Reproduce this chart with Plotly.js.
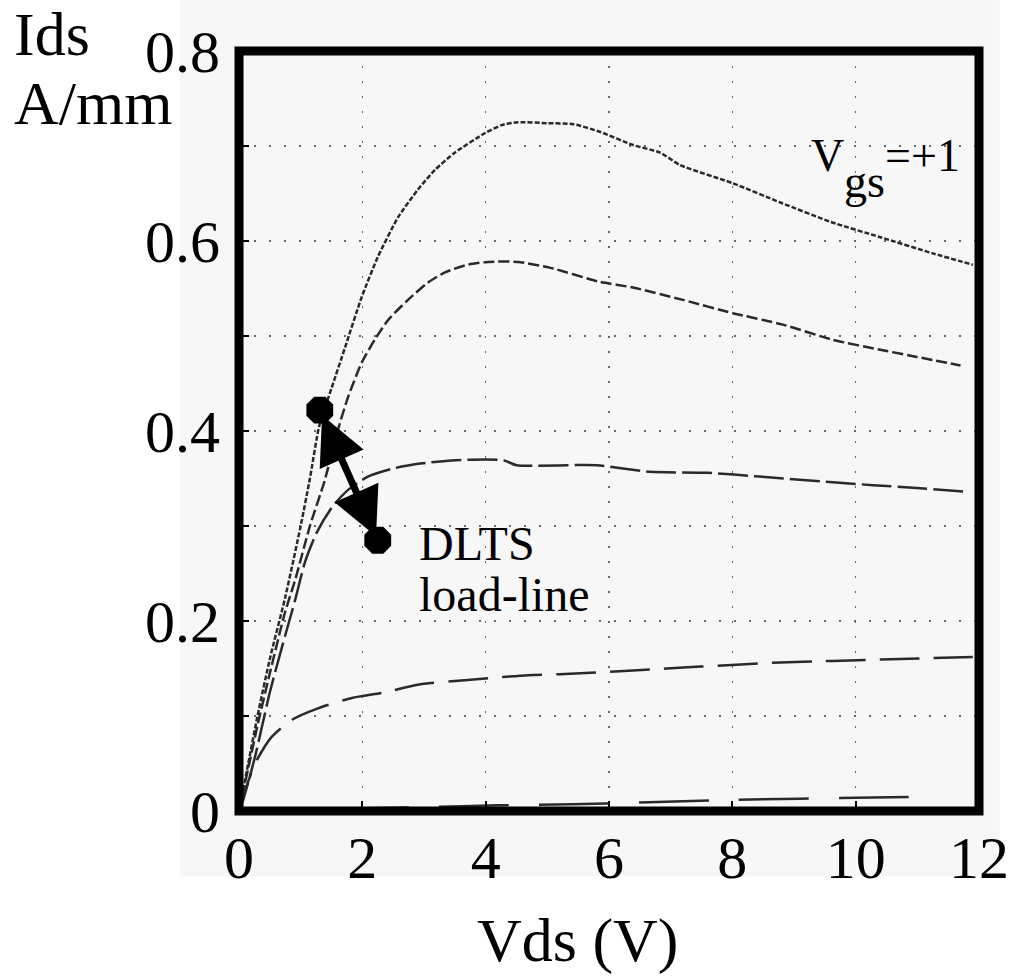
<!DOCTYPE html>
<html>
<head>
<meta charset="utf-8">
<script src="https://cdn.plot.ly/plotly-3.0.1.min.js"></script>
<style>html,body{margin:0;padding:0;background:#fff;}#chart{width:1014px;height:976px;}</style>
</head>
<body>
<div id="chart"></div>
<script>
// Vgs = +1 (top curve)
const vdsA = [0, 0.15, 0.3, 0.5, 0.75, 1.0, 1.15, 1.3, 1.5, 1.72, 1.99, 2.25, 2.58, 2.9, 3.18, 3.5, 4.0, 4.26, 4.52, 5.0, 5.42, 5.85, 6.39, 6.83, 7.15, 8.0, 8.8, 9.6, 10.4, 11.25, 11.9];
const idsA = [0, 0.05, 0.1, 0.16, 0.225, 0.3, 0.35, 0.405, 0.445, 0.488, 0.541, 0.583, 0.625, 0.654, 0.675, 0.693, 0.714, 0.722, 0.725, 0.724, 0.723, 0.715, 0.701, 0.693, 0.68, 0.661, 0.64, 0.62, 0.604, 0.587, 0.575];
// second curve
const vdsB = [0, 0.15, 0.3, 0.5, 0.75, 0.91, 1.15, 1.39, 1.59, 1.77, 1.99, 2.2, 2.42, 2.74, 3.06, 3.34, 3.71, 4.04, 4.52, 5.04, 5.85, 6.39, 7.2, 8.01, 8.82, 9.63, 10.44, 10.99, 11.7];
const idsB = [0, 0.045, 0.09, 0.145, 0.21, 0.243, 0.3, 0.348, 0.398, 0.436, 0.472, 0.496, 0.517, 0.538, 0.556, 0.567, 0.575, 0.578, 0.578, 0.572, 0.557, 0.551, 0.538, 0.524, 0.512, 0.496, 0.485, 0.478, 0.469];
// third curve
const vdsC = [0, 0.07, 0.26, 0.5, 0.75, 0.91, 1.07, 1.26, 1.51, 1.77, 2.09, 2.53, 2.97, 3.45, 4.0, 4.3, 4.5, 5.8, 6.66, 7.59, 8.45, 9.63, 10.28, 10.99, 11.8];
const idsC = [0, 0.012, 0.057, 0.125, 0.185, 0.222, 0.262, 0.293, 0.32, 0.338, 0.352, 0.361, 0.366, 0.369, 0.37, 0.369, 0.364, 0.364, 0.357, 0.356, 0.352, 0.346, 0.343, 0.34, 0.336];
// fourth curve
const vdsD = [0, 0.05, 0.26, 0.53, 0.86, 1.28, 1.83, 2.37, 2.9, 3.71, 4.69, 5.2, 6.39, 7.48, 8.66, 9.63, 10.72, 11.9];
const idsD = [0, 0.012, 0.05, 0.078, 0.096, 0.108, 0.119, 0.125, 0.133, 0.138, 0.143, 0.144, 0.148, 0.152, 0.156, 0.158, 0.16, 0.162];
// lowest curve
const vdsE = [0, 0.86, 2.0, 3.0, 4.2, 5.4, 6.5, 7.9, 9.1, 10.0, 11.2];
const idsE = [0, 0.001, 0.003, 0.004, 0.006, 0.007, 0.009, 0.0115, 0.013, 0.014, 0.015];
// DLTS load-line end points
const loadV = [1.31, 2.25];
const loadI = [0.422, 0.285];

const xTicks = [0, 2, 4, 6, 8, 10, 12];
const xTickText = ['0', '2', '4', '6', '8', '10', '12'];
const yTicks = [0, 0.2, 0.4, 0.6, 0.8];
const yTickText = ['0', '0.2', '0.4', '0.6', '0.8'];

const serif = 'Liberation Serif, Times New Roman, serif';
const curveColor = '#2a2a2a';

function curve(x, y, dash) {
  return {x: x, y: y, type: 'scatter', mode: 'lines', hoverinfo: 'skip',
          line: {color: curveColor, width: 2.5, dash: dash, shape: 'spline', smoothing: 0.6}};
}

const traces = [
  curve(vdsA, idsA, '5px,2px'),
  curve(vdsB, idsB, '11px,4px'),
  curve(vdsC, idsC, '30px,6px'),
  curve(vdsD, idsD, '40px,14px'),
  curve(vdsE, idsE, '70px,30px'),
  {x: loadV, y: loadI, type: 'scatter', mode: 'lines+markers', hoverinfo: 'skip',
   line: {color: '#000', width: 7},
   marker: {symbol: 'octagon', size: 29, color: '#000'}}
];

function along(t) {
  return [loadV[0] + (loadV[1] - loadV[0]) * t, loadI[0] + (loadI[1] - loadI[0]) * t];
}
const mid = along(0.5);
const tip1 = along(0.04);
const tip2 = along(0.97);

const annFont = {family: serif, size: 48, color: '#000'};
const bigFont = {family: serif, size: 62, color: '#000'};

const annotations = [
  {x: tip1[0], y: tip1[1], ax: mid[0], ay: mid[1], axref: 'x', ayref: 'y', xref: 'x', yref: 'y',
   text: '', showarrow: true, arrowhead: 2, arrowsize: 1.6, arrowwidth: 6, arrowcolor: '#000', standoff: 0},
  {x: tip2[0], y: tip2[1], ax: mid[0], ay: mid[1], axref: 'x', ayref: 'y', xref: 'x', yref: 'y',
   text: '', showarrow: true, arrowhead: 2, arrowsize: 1.6, arrowwidth: 6, arrowcolor: '#000', standoff: 0},
  {text: 'DLTS', x: 2.88, y: 0.282, xref: 'x', yref: 'y', xanchor: 'left', yanchor: 'middle', showarrow: false, font: annFont},
  {text: 'load-line', x: 2.88, y: 0.228, xref: 'x', yref: 'y', xanchor: 'left', yanchor: 'middle', showarrow: false, font: annFont},
  {text: 'V', x: 9.24, y: 0.69, xref: 'x', yref: 'y', xanchor: 'left', yanchor: 'middle', showarrow: false, font: {family: serif, size: 46, color: '#000'}},
  {text: 'gs', x: 9.78, y: 0.663, xref: 'x', yref: 'y', xanchor: 'left', yanchor: 'middle', showarrow: false, font: {family: serif, size: 46, color: '#000'}},
  {text: '=+1', x: 10.45, y: 0.69, xref: 'x', yref: 'y', xanchor: 'left', yanchor: 'middle', showarrow: false, font: {family: serif, size: 46, color: '#000'}},
  {text: 'Ids', x: -0.307, y: 1.022, xref: 'paper', yref: 'paper', xanchor: 'left', yanchor: 'middle', showarrow: false, font: bigFont},
  {text: 'A/mm', x: -0.307, y: 0.932, xref: 'paper', yref: 'paper', xanchor: 'left', yanchor: 'middle', showarrow: false, font: bigFont},
  {text: 'Vds (V)', x: 0.458, y: -0.17, xref: 'paper', yref: 'paper', xanchor: 'center', yanchor: 'middle', showarrow: false, font: bigFont}
];

const shapes = [
  {type: 'rect', xref: 'paper', yref: 'paper', x0: -0.08, x1: 1.028, y0: -0.086, y1: 1.08,
   fillcolor: '#f7f7f7', line: {width: 0}, layer: 'below'},
  {type: 'rect', xref: 'paper', yref: 'paper', x0: 0, x1: 1, y0: 0, y1: 1,
   line: {color: '#000', width: 9}, fillcolor: 'rgba(0,0,0,0)', layer: 'above'}
];

const gridStyle = {color: '#666', dash: '2px,13px', width: 1.5};

const layout = {
  width: 1014, height: 976,
  margin: {l: 239, r: 35, t: 51, b: 165, pad: 0},
  paper_bgcolor: '#ffffff',
  plot_bgcolor: '#f7f7f7',
  showlegend: false,
  xaxis: {
    range: [0, 12], tickvals: xTicks, ticktext: xTickText,
    ticks: 'inside', ticklen: 10, tickwidth: 2, tickcolor: '#000',
    showline: false, zeroline: false,
    showgrid: true, gridcolor: gridStyle.color, griddash: gridStyle.dash, gridwidth: gridStyle.width,
    tickfont: {family: serif, size: 60, color: '#000'}, ticklabelstandoff: 6
  },
  yaxis: {
    range: [0, 0.8], tickvals: yTicks, ticktext: yTickText,
    ticks: 'inside', ticklen: 10, tickwidth: 2, tickcolor: '#000',
    showline: false, zeroline: false,
    showgrid: true, gridcolor: gridStyle.color, griddash: gridStyle.dash, gridwidth: gridStyle.width,
    minor: {dtick: 0.1, tick0: 0, ticks: 'inside', ticklen: 10, tickwidth: 2, tickcolor: '#000',
            showgrid: true, gridcolor: gridStyle.color, griddash: gridStyle.dash, gridwidth: gridStyle.width},
    tickfont: {family: serif, size: 60, color: '#000'}, ticklabelstandoff: 18
  },
  annotations: annotations,
  shapes: shapes
};

Plotly.newPlot('chart', traces, layout, {displayModeBar: false, staticPlot: true});
</script>
</body>
</html>
